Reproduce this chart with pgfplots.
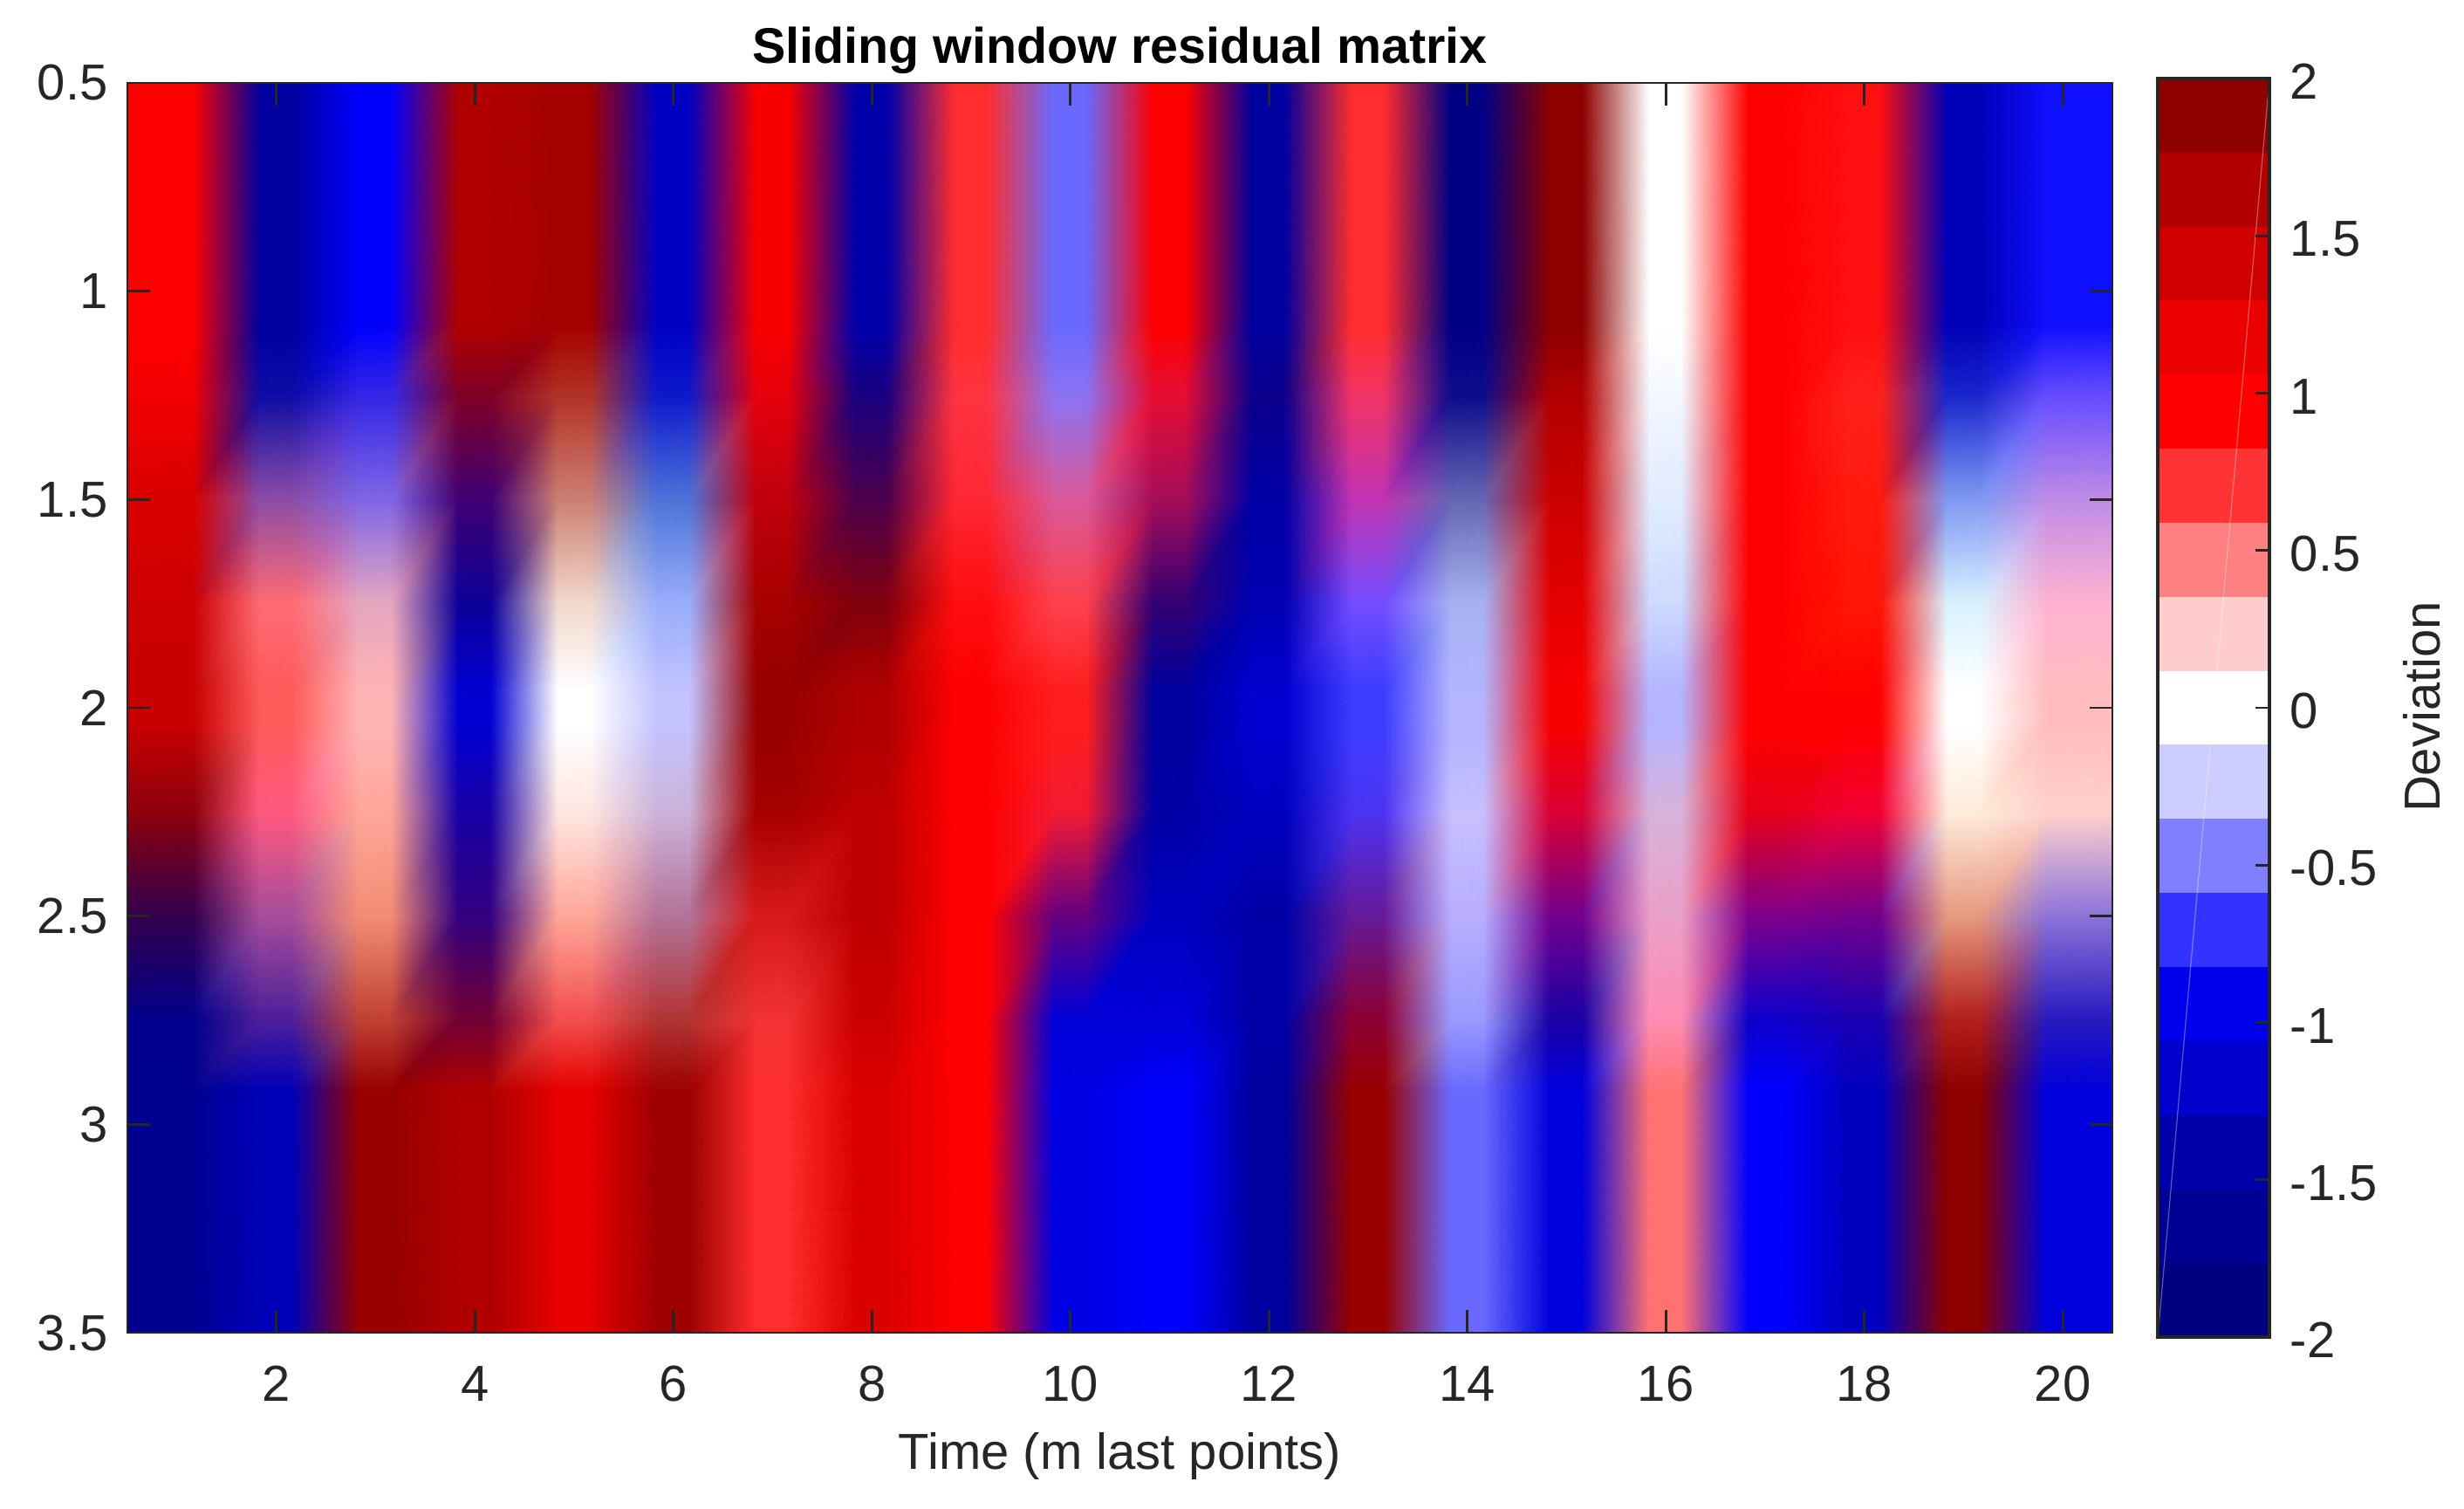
\documentclass[border=0pt]{standalone}
\usepackage{pgfplots}
\usepackage{pgfplotstable}
\usepackage{fontspec}
\setmainfont{Liberation Sans}
\pgfplotsset{compat=1.18}
% deviations at y = 1, 2, 3 for x = 1 ... 20
\def\rowA{0.95,-1.7,-0.94,1.6,1.7,-1.4,1.0,-1.6,0.7,-0.5,0.95,-1.7,0.7,-1.9,1.9,0,0.95,0.8,-1.5,-0.8}
\def\rowB{1.4,0.55,0.25,-1.3,0,-0.2,1.8,1.6,0.95,0.75,-1.7,-1.3,-0.65,-0.25,1.0,-0.25,0.95,0.85,0,0.22}
\def\rowC{-1.8,-1.5,1.8,1.6,1.15,1.75,0.7,1.25,0.95,-1.15,-0.94,-1.7,1.8,-0.5,-1.2,0.47,-0.94,-1.45,1.9,-1.2}
\def\pw{0.16}
\pgfkeys{/pgf/declare function={
    colR(\v)=(\v>=0)*((\v<0.94)*1+(\v>=0.94)*(1-(\v-0.94)*0.47))+(\v<0)*max(0,1+\v/0.85);
    colG(\v)=max(0,1-abs(\v)/0.85);
    colB(\v)=(\v<=0)*((\v>-0.94)*1+(\v<=-0.94)*(1+(\v+0.94)*0.5))+(\v>0)*max(0,1-\v/0.85);
}}
\gdef\T{x y c\\}
\newcommand\putcell[2]{% y, column index in \i, colour in \cr \cg \cb
    \ifnum\i=1 \def\xl{0.5}\else\pgfmathsetmacro\xl{\i-\pw}\fi
    \ifnum\i=20 \def\xr{20.5}\else\pgfmathsetmacro\xr{\i+\pw}\fi
    \xdef\T{\T \xl\space #1\space rgb=\cr,\cg,\cb\\ \xr\space #1\space rgb=\cr,\cg,\cb\\}}
\newcommand\addrow[2]{%
  \foreach \v [count=\i] in #2 {%
    \pgfmathsetmacro\cr{colR(\v)}\pgfmathsetmacro\cg{colG(\v)}\pgfmathsetmacro\cb{colB(\v)}%
    \putcell{#1}{}}}
\newcommand\addrgb[2]{%
  \foreach \cr/\cg/\cb [count=\i] in {#2} {\putcell{#1}{}}}
\begingroup
\let\\\relax
\addrow{0.5}{\rowA}
\addrow{1.08}{\rowA}
% colours read off the picture between the rows, x = 1 ... 20
\addrgb{1.25}{0.95/0/0,0.05/0.05/0.65,0.2/0.15/0.9,0.5/0/0.15,0.7/0.2/0.15,0.05/0.1/0.8,0.9/0/0.05,0.1/0/0.5,1/0.2/0.25,0.55/0.45/0.95,0.9/0.05/0.2,0.05/0/0.55,0.95/0.2/0.4,0.05/0.05/0.55,0.7/0/0,0.95/0.97/1,1/0/0,1/0.13/0.1,0.1/0.15/0.8,0.4/0.3/1}
\addrgb{1.5}{0.85/0/0,0.55/0.3/0.65,0.5/0.4/0.9,0.25/0/0.45,0.8/0.5/0.45,0.3/0.45/0.85,0.75/0/0.05,0.3/0/0.3,1/0.15/0.2,0.85/0.35/0.6,0.65/0.05/0.35,0/0/0.65,0.75/0.2/0.7,0.4/0.4/0.7,0.8/0/0,0.88/0.92/1,1/0/0,1/0.1/0.05,0.5/0.6/0.95,0.75/0.55/0.9}
\addrgb{1.75}{0.8/0/0,1/0.42/0.45,0.9/0.65/0.75,0.05/0/0.6,0.95/0.85/0.8,0.6/0.68/0.98,0.65/0/0,0.5/0/0.05,1/0.05/0.05,1/0.25/0.3,0.2/0/0.45,0/0/0.7,0.45/0.3/1,0.65/0.7/0.95,0.9/0/0,0.8/0.85/1,1/0/0,1/0.08/0.02,0.85/0.95/1,1/0.7/0.82}
\addrow{1.96}{\rowB}
\addrow{2.04}{\rowB}
\addrgb{2.25}{0.55/0/0.05,1/0.35/0.5,1/0.65/0.6,0.1/0/0.65,1/0.9/0.88,0.8/0.7/0.85,0.65/0/0,0.75/0/0,1/0/0,0.95/0.1/0.2,0/0/0.65,0/0/0.75,0.3/0.2/0.95,0.78/0.75/1,0.85/0/0.2,0.85/0.7/0.85,0.9/0/0.1,0.95/0/0.2,1/0.92/0.85,1/0.82/0.8}
\addrgb{2.5}{0.2/0/0.3,0.65/0.3/0.6,0.95/0.55/0.45,0.2/0/0.5,1/0.65/0.6,0.7/0.45/0.6,0.85/0.1/0.1,0.75/0/0,1/0/0,0.4/0/0.5,0/0/0.75,0/0/0.65,0.4/0.1/0.6,0.72/0.68/1,0.45/0/0.55,0.92/0.62/0.78,0.5/0/0.55,0.45/0/0.55,0.9/0.6/0.5,0.55/0.45/0.85}
\addrgb{2.75}{0/0/0.55,0.3/0.12/0.6,0.75/0.25/0.2,0.45/0/0.2,0.95/0.3/0.3,0.7/0.2/0.2,0.95/0.2/0.2,0.8/0/0,1/0/0,0/0/0.85,0/0/0.85,0/0/0.65,0.55/0/0.2,0.6/0.6/1,0.1/0/0.65,1/0.55/0.7,0.05/0/0.8,0.1/0/0.7,0.7/0.12/0.1,0.15/0.1/0.75}
\addrow{2.92}{\rowC}
\addrow{3.5}{\rowC}
\xdef\tmpread{\noexpand\pgfplotstableread[row sep=\noexpand\\]{\T}\noexpand\dat}
\endgroup
\tmpread
\definecolor{axc}{HTML}{262626}
\begin{document}
\begin{tikzpicture}
\path[use as bounding box] (0,0) rectangle (706pt,432pt);
\begin{axis}[
  at={(36.5pt,50.25pt)},anchor=south west,scale only axis,
  width=568.75pt,height=358pt,
  xmin=0.5,xmax=20.5,ymin=0.5,ymax=3.5,y dir=reverse,
  axis on top,
  axis line style={draw=axc,line width=0.7pt},
  tick style={draw=axc,line width=0.7pt},
  tick align=inside,major tick length=6.5pt,
  xtick={2,4,...,20},ytick={0.5,1,1.5,2,2.5,3,3.5},
  yticklabels={0.5,1,1.5,2,2.5,3,3.5},
  xticklabels={2,4,6,8,10,12,14,16,18,20},
  tick label style={font=\fontsize{14.5pt}{16pt}\selectfont,text=axc},
  yticklabel style={xshift=-2.1pt},
  xticklabel style={yshift=-6pt},
  title={\textbf{Sliding window residual matrix}},
  title style={at={(0.5,1)},anchor=base,yshift=-0.25pt,font=\fontsize{14.35pt}{16pt}\selectfont,text=black},
  xlabel={Time (m last points)},
  xlabel style={at={(0.5,0)},anchor=base,yshift=-39pt,font=\fontsize{14.5pt}{16pt}\selectfont,text=axc},
]
\addplot[surf,shader=interp,mesh/cols=40,
  mesh/color input=explicit,
  point meta=explicit symbolic
] table[x=x,y=y,meta=c]{\dat};
\end{axis}
\begin{axis}[
  at={(618.25pt,49pt)},anchor=south west,scale only axis,
  width=32pt,height=360.5pt,
  xmin=0,xmax=1,ymin=-2,ymax=2,
  axis on top,
  axis line style={draw=axc,line width=1pt},
  tick style={draw=axc,line width=0.7pt},
  tick align=inside,major tick length=4pt,
  xtick=\empty,
  ytick={-2,-1.5,-1,-0.5,0,0.5,1,1.5,2},
  yticklabels={-2,-1.5,-1,-0.5,0,0.5,1,1.5,2},
  yticklabel pos=right,ytick pos=right,
  tick label style={font=\fontsize{14.5pt}{16pt}\selectfont,text=axc},
  yticklabel style={xshift=2.4pt,yshift=-0.9pt},
]
\addplot[draw=none,fill={rgb,1:red,0;green,0;blue,0.50}] coordinates {(0,-2)(1,-2)(1,-1.7647)(0,-1.7647)} --cycle;
\addplot[draw=none,fill={rgb,1:red,0;green,0;blue,0.58}] coordinates {(0,-1.7647)(1,-1.7647)(1,-1.5294)(0,-1.5294)} --cycle;
\addplot[draw=none,fill={rgb,1:red,0;green,0;blue,0.67}] coordinates {(0,-1.5294)(1,-1.5294)(1,-1.2941)(0,-1.2941)} --cycle;
\addplot[draw=none,fill={rgb,1:red,0;green,0;blue,0.80}] coordinates {(0,-1.2941)(1,-1.2941)(1,-1.0588)(0,-1.0588)} --cycle;
\addplot[draw=none,fill={rgb,1:red,0;green,0;blue,0.93}] coordinates {(0,-1.0588)(1,-1.0588)(1,-0.8235)(0,-0.8235)} --cycle;
\addplot[draw=none,fill={rgb,1:red,0.2;green,0.2;blue,1}] coordinates {(0,-0.8235)(1,-0.8235)(1,-0.5882)(0,-0.5882)} --cycle;
\addplot[draw=none,fill={rgb,1:red,0.5;green,0.5;blue,1}] coordinates {(0,-0.5882)(1,-0.5882)(1,-0.3529)(0,-0.3529)} --cycle;
\addplot[draw=none,fill={rgb,1:red,0.8;green,0.8;blue,1}] coordinates {(0,-0.3529)(1,-0.3529)(1,-0.1176)(0,-0.1176)} --cycle;
\addplot[draw=none,fill=white] coordinates {(0,-0.1176)(1,-0.1176)(1,0.1176)(0,0.1176)} --cycle;
\addplot[draw=none,fill={rgb,1:red,1;green,0.8;blue,0.8}] coordinates {(0,0.1176)(1,0.1176)(1,0.3529)(0,0.3529)} --cycle;
\addplot[draw=none,fill={rgb,1:red,1;green,0.5;blue,0.5}] coordinates {(0,0.3529)(1,0.3529)(1,0.5882)(0,0.5882)} --cycle;
\addplot[draw=none,fill={rgb,1:red,1;green,0.2;blue,0.2}] coordinates {(0,0.5882)(1,0.5882)(1,0.8235)(0,0.8235)} --cycle;
\addplot[draw=none,fill={rgb,1:red,1;green,0;blue,0}] coordinates {(0,0.8235)(1,0.8235)(1,1.0588)(0,1.0588)} --cycle;
\addplot[draw=none,fill={rgb,1:red,0.92;green,0;blue,0}] coordinates {(0,1.0588)(1,1.0588)(1,1.2941)(0,1.2941)} --cycle;
\addplot[draw=none,fill={rgb,1:red,0.82;green,0;blue,0}] coordinates {(0,1.2941)(1,1.2941)(1,1.5294)(0,1.5294)} --cycle;
\addplot[draw=none,fill={rgb,1:red,0.70;green,0;blue,0}] coordinates {(0,1.5294)(1,1.5294)(1,1.7647)(0,1.7647)} --cycle;
\addplot[draw=none,fill={rgb,1:red,0.56;green,0;blue,0}] coordinates {(0,1.7647)(1,1.7647)(1,2)(0,2)} --cycle;
\addplot[white,opacity=0.35,line width=0.3pt] coordinates {(0,-2)(1,2)};
\end{axis}
\node[rotate=90,font=\fontsize{14.5pt}{16pt}\selectfont,text=axc] at (694pt,229.5pt) {Deviation};
\end{tikzpicture}
\end{document}
